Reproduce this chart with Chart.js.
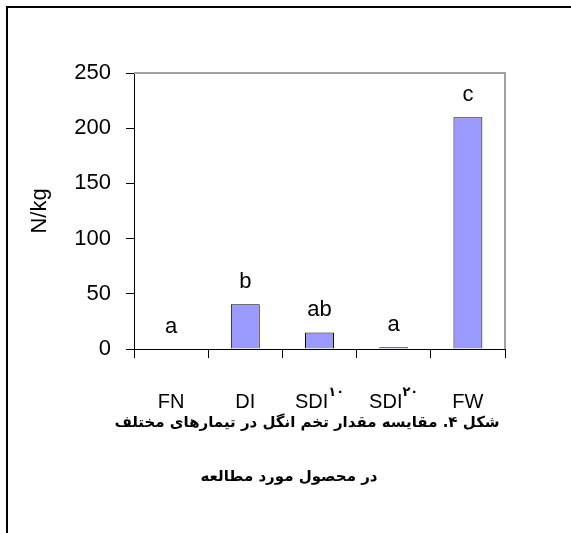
<!DOCTYPE html>
<html>
<head>
<meta charset="utf-8">
<script src="https://cdn.jsdelivr.net/npm/chart.js@4/dist/chart.umd.min.js"></script>
<style>
html, body { margin: 0; padding: 0; background: #fff; }
#wrap { position: relative; width: 571px; height: 533px; overflow: hidden; }
#frame { position: absolute; left: 6px; top: 6px; width: 600px; height: 600px; border-left: 2px solid #000; border-top: 2px solid #000; }
canvas { position: absolute; left: 0; top: 0; }
.cap { position: absolute; font-family: "DejaVu Sans"; font-weight: bold; font-size: 15px; line-height: 20px;
       direction: rtl; white-space: nowrap; color: #000; transform: translateX(-50%); }
</style>
</head>
<body>
<div id="wrap">
  <div id="frame"></div>
  <canvas id="chart" width="571" height="533"></canvas>
  <div class="cap" id="cap1" style="left:307px; top:412px;">شکل ۴. مقایسه مقدار تخم انگل در تیمارهای مختلف</div>
  <div class="cap" id="cap2" style="left:289px; top:466px; letter-spacing:0.6px;">در محصول مورد مطالعه</div>
</div>
<script>
const categories = ['FN', 'DI', 'SDI', 'SDI', 'FW'];
const superscripts = ['', '', '۱۰', '۲۰', ''];
const values = [0, 40.5, 15, 1.5, 210];
const groupLetters = ['a', 'b', 'ab', 'a', 'c'];
const yTicks = [0, 50, 100, 150, 200, 250];

// letters over bars, category labels with superscripts, grey frame
const extras = {
    id: 'extras',
    afterDatasetsDraw(chart) {
        const ctx = chart.ctx;
        const a = chart.chartArea;
        const x = chart.scales.x;
        ctx.save();
        ctx.strokeStyle = '#a0a0a0';
        ctx.lineWidth = 2;
        ctx.beginPath();
        ctx.moveTo(a.left, a.top);
        ctx.lineTo(a.right, a.top);
        ctx.lineTo(a.right, a.bottom);
        ctx.stroke();

        ctx.fillStyle = '#000';
        ctx.textBaseline = 'alphabetic';
        ctx.textAlign = 'center';
        ctx.font = '22px "Liberation Sans"';
        chart.getDatasetMeta(0).data.forEach(function (bar, i) {
            ctx.fillText(groupLetters[i], bar.x, bar.y - 16);
        });

        ctx.textAlign = 'left';
        categories.forEach(function (label, i) {
            ctx.font = '20px "Liberation Sans"';
            const w1 = ctx.measureText(label).width;
            ctx.font = 'bold 13px "DejaVu Sans"';
            const w2 = superscripts[i] ? ctx.measureText(superscripts[i]).width : 0;
            const left = x.getPixelForValue(i) - (w1 + w2) / 2;
            ctx.font = '20px "Liberation Sans"';
            ctx.fillText(label, left, a.bottom + 59);
            if (superscripts[i]) {
                ctx.font = 'bold 13px "DejaVu Sans"';
                ctx.fillText(superscripts[i], left + w1, a.bottom + 47);
            }
        });
        ctx.restore();
    }
};

new Chart(document.getElementById('chart').getContext('2d'), {
    type: 'bar',
    data: {
        labels: categories,
        datasets: [{
            data: values,
            backgroundColor: '#9999ff',
            borderColor: '#000',
            borderWidth: 1,
            barPercentage: 0.39,
            categoryPercentage: 1
        }]
    },
    options: {
        responsive: false,
        animation: false,
        layout: { padding: { top: 73, right: 66, left: 0, bottom: 0 } },
        plugins: { legend: { display: false }, tooltip: { enabled: false } },
        scales: {
            x: {
                afterFit: function (s) { s.height = 184; },
                border: { color: '#000', width: 1 },
                grid: { drawOnChartArea: false, tickLength: 9, color: '#000', offset: true },
                ticks: { display: false }
            },
            y: {
                min: 0,
                max: 250,
                afterBuildTicks: function (s) { s.ticks = yTicks.map(v => ({ value: v })); },
                afterFit: function (s) { s.width = 134; },
                border: { color: '#000', width: 1 },
                grid: { drawOnChartArea: false, tickLength: 8, color: '#000' },
                ticks: { padding: 15, color: '#000', font: { family: 'Liberation Sans', size: 22 } },
                title: {
                    display: true,
                    text: 'N/kg',
                    color: '#000',
                    font: { family: 'Liberation Sans', size: 22 },
                    padding: { top: 27, bottom: 0 }
                }
            }
        }
    },
    plugins: [extras]
});
</script>
</body>
</html>
